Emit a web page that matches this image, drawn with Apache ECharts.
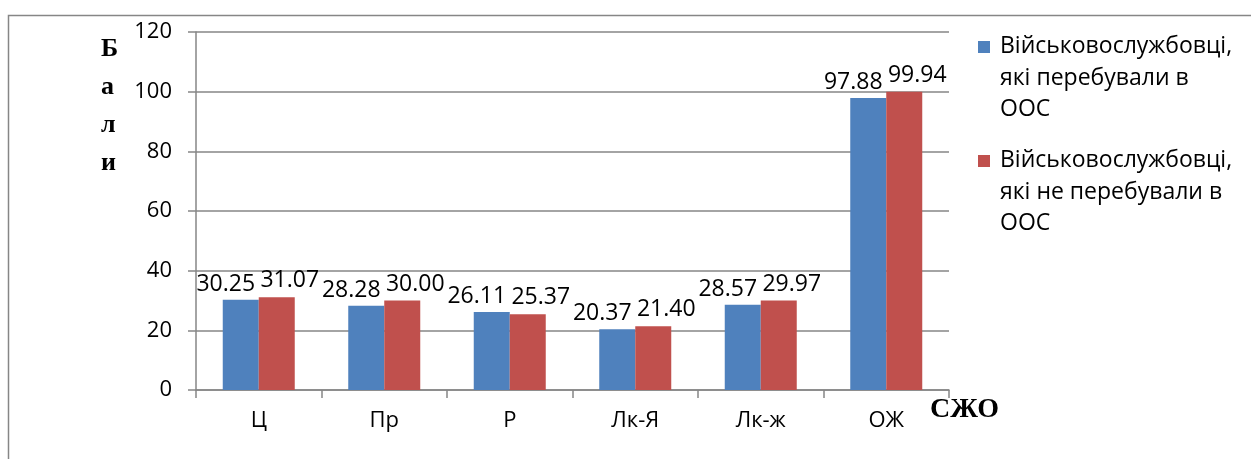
<!DOCTYPE html>
<html><head><meta charset="utf-8">
<script src="https://cdn.jsdelivr.net/npm/echarts@6/dist/echarts.min.js"></script>
<style>html,body{margin:0;padding:0;background:#fff}#c{width:1251px;height:459px}</style>
</head><body><div id="c"></div>
<script>
const categories = ['Ц', 'Пр', 'Р', 'Лк-Я', 'Лк-ж', 'ОЖ'];
const seriesNames = ['Військовослужбовці, які перебували в ООС', 'Військовослужбовці, які не перебували в ООС'];
const legendLines = [['Військовослужбовці,', 'які перебували в', 'ООС'], ['Військовослужбовці,', 'які не перебували в', 'ООС']];
const inOOS = [30.25, 28.28, 26.11, 20.37, 28.57, 97.88];
const notInOOS = [31.07, 30.00, 25.37, 21.40, 29.97, 99.94];
const yTicks = [0, 20, 40, 60, 80, 100, 120];
const yAxisTitle = 'Бали';
const xAxisTitle = 'СЖО';

const colors = ['#4F81BD', '#C0504D'];
const font = '"Open Sans", Lato, "Liberation Sans", sans-serif';
const serif = '"Liberation Serif", "DejaVu Serif", serif';
const chart = echarts.init(document.getElementById('c'));
const legendGraphics = [];
[47, 161].forEach((y, i) => {
  legendGraphics.push({type: 'rect', left: 978, top: y - 6, shape: {width: 12, height: 12}, style: {fill: colors[i]}});
  legendGraphics.push({type: 'text', left: 1000, top: y - 16, style: {text: legendLines[i].join('\n'), font: '23px ' + font, lineHeight: 31.5, fill: '#000'}});
});
chart.setOption({
  animation: false,
  color: colors,
  grid: {left: 196, right: 302, top: 32, bottom: 69},
  xAxis: {
    type: 'category', data: categories,
    axisLine: {lineStyle: {color: '#868686', width: 1.5}},
    axisTick: {show: true, length: 8, lineStyle: {color: '#868686', width: 1.5}},
    axisLabel: {fontSize: 22, fontFamily: font, color: '#000', margin: 20}
  },
  yAxis: {
    type: 'value', min: yTicks[0], max: yTicks[yTicks.length - 1], interval: 20,
    axisLine: {show: true, lineStyle: {color: '#868686', width: 1.5}},
    axisTick: {show: true, length: 8, lineStyle: {color: '#868686', width: 1.5}},
    splitLine: {lineStyle: {color: '#868686', width: 1.5}},
    axisLabel: {fontSize: 22, fontFamily: font, color: '#000', margin: 24}
  },
  series: [
    {name: seriesNames[0], type: 'bar', data: inOOS, barWidth: 36, barGap: '0%',
     label: {show: true, position: 'top', distance: 4, offset: [-15, 0], fontSize: 23, fontFamily: font, color: '#000', formatter: p => p.value.toFixed(2)}},
    {name: seriesNames[1], type: 'bar', data: notInOOS, barWidth: 36, barGap: '0%',
     label: {show: true, position: 'top', distance: 5, offset: [13, 0], fontSize: 23, fontFamily: font, color: '#000', formatter: p => p.value.toFixed(2)}}
  ],
  graphic: [
    {type: 'rect', left: 6, top: 13, shape: {width: 1400, height: 600}, style: {fill: 'none', stroke: '#868686', lineWidth: 1.5}, silent: true},
    {type: 'text', left: 101, top: 30, style: {text: yAxisTitle.split('').join('\n'), font: 'bold 26px ' + serif, lineHeight: 38, fill: '#000'}},
    {type: 'text', left: 930, top: 396, style: {text: xAxisTitle, font: 'bold 28px ' + serif, fill: '#000'}},
    ...legendGraphics
  ]
});
</script></body></html>
